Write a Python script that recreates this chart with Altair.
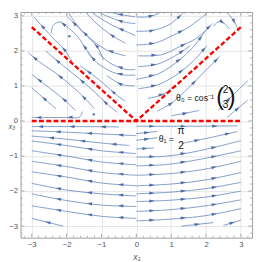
import math
import altair as alt
import pandas as pd

# ---------------- axes / frame ----------------
X_DOMAIN = [-3.32, 3.32]
Y_DOMAIN = [-3.33, 3.11]
W, H = 239, 233
major_ticks = [-3, -2, -1, 0, 1, 2, 3]
minor_ticks = [v / 10 for v in range(-32, 33, 2) if v % 10 != 0]

# ---------------- streamlines (in flow order) ----------------
lower_left = [
    [(-0.5, -0.17), (-1.8, -0.16), (-3.0, -0.16)],
    [(0.0, -0.42), (-1.0, -0.37), (-2.0, -0.32), (-3.0, -0.28)],
    [(-0.2, -0.70), (-1.0, -0.63), (-2.0, -0.52), (-3.0, -0.43)],
    [(0.0, -0.93), (-1.0, -0.85), (-2.0, -0.70), (-3.0, -0.57)],
    [(0.0, -1.25), (-1.0, -1.17), (-2.0, -1.00), (-3.0, -0.85)],
    [(0.0, -1.55), (-1.0, -1.47), (-2.0, -1.30), (-3.0, -1.15)],
    [(0.0, -1.85), (-1.0, -1.77), (-2.0, -1.60), (-3.0, -1.45)],
    [(0.0, -2.14), (-1.0, -2.08), (-2.0, -1.97), (-3.0, -1.78)],
    [(0.0, -2.44), (-1.0, -2.40), (-2.0, -2.27), (-3.0, -2.08)],
    [(0.0, -2.78), (-1.0, -2.72), (-2.0, -2.58), (-3.0, -2.42)],
    [(-2.1, -3.0), (-3.0, -2.78)],
]
lower_right = [
    [(0.0, -0.15), (1.5, -0.15), (2.9, -0.14)],
    [(0.0, -0.36), (0.6, -0.30)],
    [(0.0, -0.55), (0.6, -0.48)],
    [(0.0, -0.80), (0.5, -0.77)],
    [(1.3, -0.64), (2.0, -0.50), (2.9, -0.30)],
    [(0.0, -1.03), (0.9, -1.00), (1.9, -0.83), (3.0, -0.56)],
    [(0.0, -1.28), (0.9, -1.24), (1.9, -1.08), (3.0, -0.85)],
    [(0.0, -1.55), (1.0, -1.50), (2.0, -1.37), (3.0, -1.15)],
    [(0.0, -1.85), (1.0, -1.80), (2.0, -1.68), (3.0, -1.47)],
    [(0.0, -2.08), (1.0, -2.03), (2.0, -1.93), (3.0, -1.75)],
    [(0.0, -2.30), (1.0, -2.26), (2.0, -2.17), (3.0, -2.00)],
    [(0.0, -2.58), (1.0, -2.53), (2.0, -2.42), (3.0, -2.25)],
    [(0.0, -2.85), (1.0, -2.80), (2.0, -2.70), (3.0, -2.50)],
    [(1.3, -3.0), (2.2, -2.9)],
    [(2.5, -2.98), (3.0, -2.83)],
]
upper_left = [
    [(-0.03, 2.97), (-0.58, 3.06), (-0.9, 3.15)],
    [(-0.03, 2.78), (-0.39, 2.83), (-0.86, 3.0), (-1.1, 3.12)],
    [(-0.03, 2.44), (-0.31, 2.56), (-0.67, 2.72), (-1.14, 3.0), (-1.3, 3.12)],
    [(-0.31, 2.22), (-0.67, 2.42), (-1.14, 2.78), (-1.45, 3.1)],
    [(-0.31, 1.86), (-0.86, 2.03), (-1.42, 2.44), (-1.75, 2.8), (-1.95, 3.1)],
    [(-0.94, 1.75), (-1.14, 2.14), (-1.5, 2.5), (-1.97, 2.97)],
    [(-1.22, 1.75), (-1.5, 2.14), (-1.69, 2.42), (-2.03, 2.72), (-2.19, 2.83), (-2.39, 2.72), (-2.44, 2.5)],
    [(-1.83, 1.67), (-2.06, 2.03), (-2.44, 2.42), (-2.94, 2.97)],
    [(-0.03, 1.31), (-0.31, 1.31), (-0.67, 1.39), (-1.14, 1.67), (-1.4, 1.95)],
    [(-0.03, 1.47), (-0.31, 1.47), (-0.78, 1.67), (-1.1, 1.95)],
    [(-0.05, 1.0), (-0.45, 1.05), (-0.85, 1.3)],
    [(-0.31, 0.56), (-0.58, 0.75), (-1.06, 1.17), (-1.61, 1.58)],
]
upper_left_wedge = [
    [(-0.55, 0.25), (-0.86, 0.5), (-1.22, 0.85), (-1.69, 1.25), (-2.25, 1.7), (-2.6, 2.0)],
    [(-1.2, 0.35), (-1.45, 0.62), (-1.8, 0.95), (-2.25, 1.32), (-2.8, 1.7), (-3.1, 1.95)],
    [(-1.75, 0.3), (-2.06, 0.6), (-2.44, 0.9), (-3.0, 1.33)],
    [(-2.3, 0.35), (-2.6, 0.6), (-3.0, 0.95)],
    [(-1.55, 0.27), (-1.62, 0.12), (-2.2, 0.1), (-3.0, 0.1)],
]
upper_right = [
    [(0.0, 2.97), (0.33, 2.97), (0.61, 3.06), (0.81, 3.19)],
    [(0.0, 2.56), (0.44, 2.58), (0.89, 2.72), (1.17, 2.92), (1.36, 3.1)],
    [(0.0, 2.17), (0.53, 2.22), (1.0, 2.42), (1.44, 2.64), (1.83, 2.92), (2.05, 3.1)],
    [(0.06, 1.86), (0.72, 1.89), (1.28, 2.14), (1.72, 2.36), (2.19, 2.78)],
    [(0.05, 1.55), (0.6, 1.62), (1.1, 1.85), (1.55, 2.15)],
    [(0.0, 1.19), (0.64, 1.35), (1.31, 1.8), (1.75, 2.25), (2.0, 2.6)],
    [(0.06, 0.92), (0.61, 1.03), (1.17, 1.33), (1.64, 1.72), (2.03, 2.15)],
    [(0.33, 0.64), (0.81, 0.78), (1.05, 0.98)],
    [(2.22, 2.7), (2.3, 2.8), (2.45, 2.83), (2.67, 2.63)],
    [(2.6, 3.1), (2.8, 2.85), (2.95, 2.55)],
]
upper_right_wedge = [
    [(0.6, 0.28), (1.0, 0.5), (1.5, 0.95), (2.0, 1.45), (2.4, 1.85)],
    [(2.35, 0.3), (2.75, 0.72), (3.2, 1.15)],
    [(2.6, 0.1), (2.9, 0.35), (3.2, 0.6)],
    [(1.0, 0.15), (1.4, 0.22), (1.8, 0.3)],
]
dot_x = [-1.22, 1.36, -1.92]
dot_y = [0.19, 0.2, 2.42]

# ---------------- red reference lines ----------------
red_v_x = [-3.0, 0.0, 3.0]
red_v_y = [2.68, 0.0, 2.68]
red_h_x = [-3.0, 3.0]
red_h_y = [0.0, 0.0]

# ---------------- build tables ----------------
rows, arrows = [], []
lid = 0
for group in (lower_left, lower_right, upper_left, upper_left_wedge, upper_right, upper_right_wedge):
    for line in group:
        for k, (x, y) in enumerate(line):
            rows.append({"id": lid, "k": k, "x": x, "y": y})
        segs = []
        for (x0, y0), (x1, y1) in zip(line[:-1], line[1:]):
            segs.append((x0, y0, x1, y1, math.hypot(x1 - x0, y1 - y0)))
        total = sum(s[4] for s in segs)
        if total < 0.9:
            stops = [total / 2]
        else:
            stops = []
            s = 0.45
            while s < total - 0.1:
                stops.append(s)
                s += 0.9
        for st in stops:
            acc = 0.0
            for x0, y0, x1, y1, L in segs:
                if acc + L >= st or (x1, y1) == line[-1]:
                    t = (st - acc) / L if L else 0
                    ang = math.degrees(math.atan2(x1 - x0, y1 - y0)) % 360
                    arrows.append({"x": x0 + t * (x1 - x0), "y": y0 + t * (y1 - y0), "a": ang})
                    break
                acc += L
        lid += 1

lines_df = pd.DataFrame(rows)
arrows_df = pd.DataFrame(arrows)
dots_df = pd.DataFrame({"x": dot_x, "y": dot_y})
red_df = pd.concat([
    pd.DataFrame({"g": "v", "k": range(3), "x": red_v_x, "y": red_v_y}),
    pd.DataFrame({"g": "h", "k": range(2), "x": red_h_x, "y": red_h_y}),
])

xs = alt.Scale(domain=X_DOMAIN, nice=False, zero=False)
ys = alt.Scale(domain=Y_DOMAIN, nice=False, zero=False)
FONT = "Liberation Sans"
LINE_C = "#7390c2"
ARROW_C = "#4f6ea6"

xaxis = alt.Axis(values=major_ticks, grid=True, gridColor="#e4e4e4", ticks=False, domain=False,
                 labelFont=FONT, labelFontSize=8, labelColor="#555555", labelPadding=3,
                 title="x₁", titleFont=FONT, titleFontSize=9, titleFontStyle="italic",
                 titleFontWeight="normal", titleColor="#555555", titlePadding=5)
yaxis = alt.Axis(values=major_ticks, grid=True, gridColor="#e4e4e4", ticks=False, domain=False,
                 labelFont=FONT, labelFontSize=8, labelColor="#555555", labelPadding=3,
                 title="x₃", titleFont=FONT, titleFontSize=8, titleFontStyle="italic",
                 titleFontWeight="normal", titleColor="#555555", titleAngle=0,
                 titleX=-13, titleY=H / 2 + 2, titleAlign="left", titleBaseline="middle")


def X(field="x"):
    return alt.X(f"{field}:Q", scale=xs, axis=xaxis)


def Y(field="y"):
    return alt.Y(f"{field}:Q", scale=ys, axis=yaxis)


stream = alt.Chart(lines_df).mark_line(clip=True, interpolate="catmull-rom", color=LINE_C,
                                        strokeWidth=0.9).encode(
    x=X(), y=Y(), detail="id:N", order="k:Q")

heads = alt.Chart(arrows_df).mark_point(clip=True, shape="M0,-1L0.6,1L-0.6,1Z", filled=True,
                                         color=ARROW_C, opacity=1, size=30).encode(
    x=X(), y=Y(), angle=alt.Angle("a:Q", scale=None))

dots = alt.Chart(dots_df).mark_point(clip=True, shape="circle", filled=True, color=ARROW_C,
                                      opacity=1, size=6).encode(x=X(), y=Y())

red = alt.Chart(red_df).mark_line(clip=True, color="#ff0000", strokeWidth=2.4,
                                   strokeDash=[5, 2.5]).encode(
    x=X(), y=Y(), detail="g:N", order="k:Q")

# inward frame ticks
tk_major = pd.DataFrame({"x": major_ticks, "y": major_ticks})
tk_minor = pd.DataFrame({"x": minor_ticks, "y": minor_ticks})
TICK_C = "#9a9a9a"
tick_layers = []
for df, ln in ((tk_major, 4), (tk_minor, 2)):
    base = alt.Chart(df).mark_rule(clip=True, color=TICK_C, strokeWidth=0.8)
    tick_layers += [
        base.encode(x=X(), y=alt.value(H), y2=alt.value(H - ln)),
        base.encode(x=X(), y=alt.value(0), y2=alt.value(ln)),
        base.encode(y=Y(), x=alt.value(0), x2=alt.value(ln)),
        base.encode(y=Y(), x=alt.value(W), x2=alt.value(W - ln)),
    ]


def txt(df, **kw):
    return alt.Chart(df).mark_text(font=FONT, color="#111111", **kw).encode(
        x=X(), y=Y(), text="t:N")


ann_left = pd.DataFrame({"x": [1.14, 0.64], "y": [0.66, -0.52], "t": ["θ₀ = cos⁻¹", "θ₁ ="]})
ann_frac = pd.DataFrame({"x": [2.56, 2.56, 1.28, 1.28], "y": [0.88, 0.44, -0.28, -0.72],
                         "t": ["2", "3", "π", "2"]})
ann_par = pd.DataFrame({"x": [2.4, 2.73], "y": [0.64, 0.64], "t": ["(", ")"]})

texts = [
    txt(ann_left, align="left", baseline="middle", fontSize=9),
    txt(ann_frac, align="center", baseline="middle", fontSize=10.5),
    txt(ann_par, align="center", baseline="middle", fontSize=24, fontWeight=300),
]

chart = alt.layer(stream, *tick_layers, heads, dots, red, *texts).properties(
    width=W, height=H,
    autosize=alt.AutoSizeParams(type="none"),
    padding={"left": 13, "top": 0, "right": 3, "bottom": 21},
).configure_view(stroke="#9a9a9a", strokeWidth=1)

chart.save("out.html", embed_options={"renderer": "svg", "actions": False})
